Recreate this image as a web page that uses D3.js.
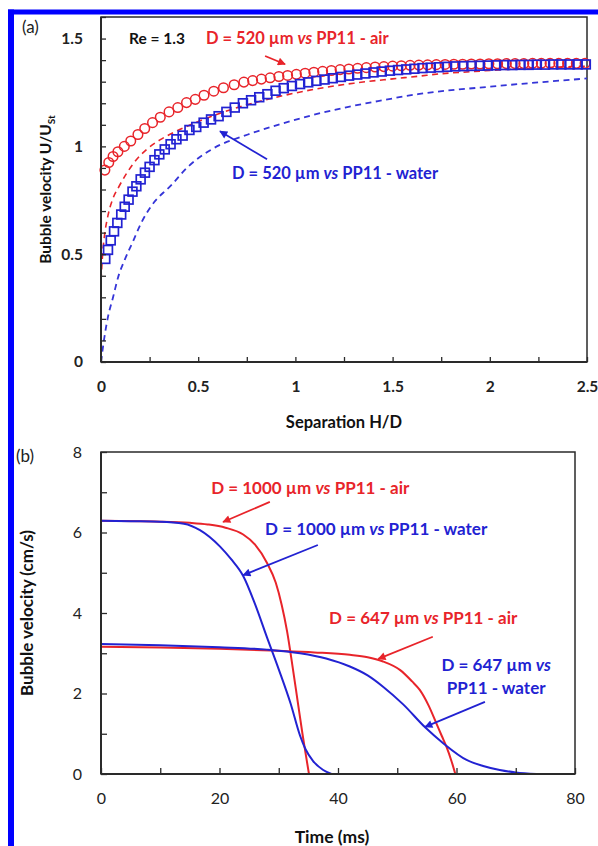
<!DOCTYPE html>
<html><head><meta charset="utf-8">
<script src="https://cdn.jsdelivr.net/npm/d3@7/dist/d3.min.js"></script>
<style>
html,body{margin:0;padding:0;background:#fff;}
svg{display:block;font-family:Lato,"Liberation Sans",sans-serif;}
</style></head>
<body>
<svg id="c" width="598" height="846"></svg>
<script>
// ---------- Panel (a) data ----------
const airMarkX = [0.02,0.04,0.062,0.087,0.12,0.153,0.19,0.225,0.265,0.305,0.35,0.395,0.44,0.485,0.53,0.58,0.63,0.685,0.735,0.78,0.825,0.87,0.915,0.96,1.005,1.05,1.095,1.14,1.185,1.23,1.275,1.32,1.365,1.41,1.455,1.5,1.545,1.59,1.635,1.68,1.725,1.77,1.815,1.86,1.905,1.95,1.995,2.04,2.085,2.13,2.175,2.22,2.265,2.31,2.355,2.4,2.445,2.49];
const airMarkY = [0.89,0.925,0.953,0.975,1.0,1.025,1.055,1.083,1.11,1.135,1.16,1.18,1.203,1.218,1.237,1.256,1.272,1.286,1.298,1.305,1.312,1.318,1.324,1.329,1.334,1.339,1.344,1.348,1.352,1.356,1.359,1.362,1.365,1.368,1.370,1.372,1.374,1.376,1.377,1.378,1.379,1.380,1.381,1.381,1.382,1.382,1.383,1.383,1.384,1.384,1.384,1.385,1.385,1.385,1.385,1.385,1.385,1.385];
const waterMarkX = [0.022,0.036,0.05,0.067,0.084,0.104,0.122,0.142,0.162,0.182,0.204,0.226,0.25,0.275,0.3,0.328,0.358,0.388,0.42,0.455,0.49,0.528,0.566,0.605,0.645,0.688,0.73,0.772,0.814,0.856,0.898,0.94,0.982,1.024,1.066,1.108,1.15,1.192,1.234,1.276,1.318,1.36,1.402,1.444,1.486,1.528,1.57,1.612,1.654,1.696,1.738,1.78,1.822,1.864,1.906,1.948,1.99,2.032,2.074,2.116,2.158,2.2,2.242,2.284,2.326,2.368,2.41,2.452,2.494];
const waterMarkY = [0.478,0.52,0.564,0.606,0.645,0.684,0.72,0.753,0.79,0.815,0.847,0.878,0.905,0.936,0.963,0.986,1.01,1.033,1.05,1.076,1.09,1.11,1.125,1.14,1.16,1.18,1.2,1.214,1.228,1.242,1.258,1.27,1.28,1.289,1.297,1.304,1.31,1.316,1.322,1.328,1.333,1.338,1.343,1.347,1.351,1.354,1.357,1.36,1.363,1.365,1.367,1.369,1.371,1.372,1.373,1.374,1.375,1.376,1.377,1.377,1.378,1.378,1.379,1.379,1.38,1.38,1.38,1.38,1.38];
const airDashX = [0,0.01,0.02,0.036,0.062,0.089,0.132,0.184,0.235,0.303,0.372,0.5,0.65,0.8,0.96,1.1,1.3,1.5,1.63,1.75,1.88,2.0,2.2,2.5];
const airDashY = [0.38,0.52,0.6,0.68,0.76,0.808,0.875,0.94,0.986,1.03,1.064,1.115,1.165,1.205,1.24,1.265,1.293,1.313,1.325,1.337,1.345,1.352,1.362,1.372];
const waterDashX = [0,0.015,0.036,0.062,0.087,0.122,0.165,0.207,0.26,0.32,0.345,0.447,0.567,0.756,0.91,1.084,1.255,1.425,1.63,2.04,2.5];
const waterDashY = [0,0.1,0.21,0.3,0.39,0.474,0.56,0.645,0.725,0.785,0.805,0.905,0.985,1.055,1.1,1.144,1.18,1.21,1.242,1.28,1.315];
const aYTicks = [0,0.1,0.2,0.3,0.4,0.5,0.6,0.7,0.8,0.9,1.0,1.1,1.2,1.3,1.4,1.5,1.6];
const aYLabels = {0:"0",0.5:"0.5",1:"1",1.5:"1.5"};
const aXTicks = [0,0.25,0.5,0.75,1,1.25,1.5,1.75,2,2.25,2.5];
const aXLabels = {0:"0",0.5:"0.5",1:"1",1.5:"1.5",2:"2",2.5:"2.5"};

// ---------- Panel (b) data ----------
const air1000T = [0,10,15,18,21,24,26,28,29.5,30.5,31.4,32.3,33.2,34,34.6,35.1];
const air1000V = [6.29,6.27,6.24,6.2,6.12,5.95,5.7,5.25,4.75,4.2,3.55,2.7,1.8,1.0,0.45,0];
const water1000T = [0,5,10,14,16.7,20.1,22,24,26,28,30,32,33.6,34.5,35.8,37.5,38.9];
const water1000V = [6.29,6.28,6.27,6.22,6.06,5.65,5.33,4.92,4.22,3.4,2.6,1.75,0.95,0.62,0.32,0.1,0];
const air647T = [0,10,20,30,36,42,45,47.5,50.5,52.5,53.8,55.3,56.6,57.5,58.3,59.2,59.8];
const air647V = [3.16,3.14,3.11,3.06,3.02,2.96,2.9,2.8,2.58,2.3,2.09,1.7,1.26,0.95,0.68,0.3,0];
const water647T = [0,10,20,28,33.6,38,42,45,47.6,51,54.7,57.8,61.7,64.5,67.3,70,73.5];
const water647V = [3.23,3.2,3.15,3.09,3.0,2.87,2.67,2.45,2.17,1.73,1.16,0.76,0.35,0.2,0.1,0.04,0];
const bYTicks = [0,1,2,3,4,5,6,7,8];
const bYLabels = {0:"0",2:"2",4:"4",6:"6",8:"8"};
const bXTicks = [0,10,20,30,40,50,60,70,80];
const bXLabels = {0:"0",20:"20",40:"40",60:"60",80:"80"};

const RED = "#e8242a", BLUE = "#2222d2", AX = "#2a2a2a";

const svg = d3.select("#c");
// blue frame of the figure
svg.append("rect").attr("x",8).attr("y",9.5).attr("width",590).attr("height",5).attr("fill","#0000ff");
svg.append("rect").attr("x",8).attr("y",9.5).attr("width",6).attr("height",837).attr("fill","#0000ff");

const defs = svg.append("defs");
function arrowMarker(id,color){
  defs.append("marker").attr("id",id).attr("viewBox","0 0 10 10").attr("refX",9).attr("refY",5)
    .attr("markerWidth",9).attr("markerHeight",8).attr("markerUnits","userSpaceOnUse").attr("orient","auto")
    .append("path").attr("d","M0,0L10,5L0,10z").attr("fill",color);
}
arrowMarker("ar",RED); arrowMarker("ab",BLUE);

function zip(a,b){return a.map((d,i)=>[d,b[i]]);}

// ===== Panel (a) =====
const ax = d3.scaleLinear().domain([0,2.5]).range([101,587]);
const ay = d3.scaleLinear().domain([0,1.6]).range([362,17]);
const ga = svg.append("g");
ga.append("rect").attr("x",ax(0)).attr("y",ay(1.6)).attr("width",ax(2.5)-ax(0)).attr("height",ay(0)-ay(1.6))
  .attr("fill","none").attr("stroke",AX).attr("stroke-width",1.5);

const line = (sx,sy)=>d3.line().x(d=>sx(d[0])).y(d=>sy(d[1])).curve(d3.curveMonotoneX);

ga.append("path").datum(zip(waterDashX,waterDashY)).attr("d",line(ax,ay)).attr("fill","none")
  .attr("stroke","#3535d8").attr("stroke-width",1.8).attr("stroke-dasharray","6,4.5");
ga.append("path").datum(zip(airDashX,airDashY)).attr("d",line(ax,ay)).attr("fill","none")
  .attr("stroke",RED).attr("stroke-width",1.6).attr("stroke-dasharray","6,4.5");

ga.selectAll("circle.air").data(zip(airMarkX,airMarkY)).join("circle").attr("class","air")
  .attr("cx",d=>ax(d[0])).attr("cy",d=>ay(d[1])).attr("r",4.8)
  .attr("fill","none").attr("stroke",RED).attr("stroke-width",1.5);
ga.selectAll("rect.wat").data(zip(waterMarkX,waterMarkY)).join("rect").attr("class","wat")
  .attr("x",d=>ax(d[0])-4.4).attr("y",d=>ay(d[1])-4.4).attr("width",8.8).attr("height",8.8)
  .attr("fill","none").attr("stroke",BLUE).attr("stroke-width",1.7);

function styleAxis(g,bold,size){
  g.select(".domain").remove();
  g.selectAll(".tick line").attr("stroke",AX).attr("stroke-width",1.3);
  g.selectAll(".tick text").attr("fill","#222").style("font-size",size+"px")
    .style("font-weight",bold?"700":"400").style("font-family","Lato, sans-serif");
}
const gaY = ga.append("g").attr("transform",`translate(${ax(0)},0)`)
  .call(d3.axisLeft(ay).tickValues(aYTicks).tickSize(-5).tickPadding(18).tickFormat(d=>aYLabels[Math.round(d*10)/10]||""));
styleAxis(gaY,true,15.5);
const gaX = ga.append("g").attr("transform",`translate(0,${ay(0)})`)
  .call(d3.axisBottom(ax).tickValues(aXTicks).tickSize(-5).tickPadding(19).tickFormat(d=>aXLabels[d]||""));
styleAxis(gaX,true,15.5);
ga.append("line").attr("x1",ax(0)).attr("x2",ax(0)).attr("y1",ay(0)).attr("y2",ay(1.6)).attr("stroke",AX).attr("stroke-width",2);
ga.append("line").attr("x1",ax(0)).attr("x2",ax(2.5)).attr("y1",ay(0)).attr("y2",ay(0)).attr("stroke",AX).attr("stroke-width",2);

// titles (a)
svg.append("text").attr("x",22).attr("y",33).text("(a)").style("font-size","17px").attr("fill","#222");
svg.append("text").attr("x",(ax(0)+ax(2.5))/2).attr("y",428).attr("text-anchor","middle")
  .style("font-size","16.5px").style("font-weight","700").attr("fill","#111").text("Separation H/D");
const ta = svg.append("text").attr("transform",`translate(51,${(ay(0)+ay(1.6))/2}) rotate(-90)`).attr("text-anchor","middle")
  .style("font-size","15.5px").style("font-weight","700").attr("fill","#111");
ta.append("tspan").text("Bubble  velocity U/U");
ta.append("tspan").text("St").style("font-size","10px").attr("dy",4);

// annotations
function label(g,sx,sy,x,y,color,parts,anchor,size){
  const t = g.append("text").attr("x",sx(x)).attr("y",sy(y)).attr("fill",color)
    .style("font-size",(size||16.5)+"px").style("font-weight","700").attr("text-anchor",anchor||"start");
  parts.forEach(p=>{const s=t.append("tspan").text(p[0]); if(p[1]) s.style("font-style","italic");});
}
function arrow(g,sx,sy,x1,y1,x2,y2,color,mk){
  g.append("line").attr("x1",sx(x1)).attr("y1",sy(y1)).attr("x2",sx(x2)).attr("y2",sy(y2))
    .attr("stroke",color).attr("stroke-width",1.8).attr("marker-end",`url(#${mk})`);
}
label(ga,ax,ay,0.144,1.474,"#111",[["Re = 1.3"]],"start",15.5);
label(ga,ax,ay,0.54,1.474,RED,[["D = 520 µm "],["vs",1],[" PP11 - air"]]);
label(ga,ax,ay,0.674,0.851,BLUE,[["D = 520 µm "],["vs",1],[" PP11 - water"]]);
arrow(ga,ax,ay,0.844,1.419,0.947,1.381,RED,"ar");
arrow(ga,ax,ay,0.854,0.94,0.612,1.07,BLUE,"ab");

// ===== Panel (b) =====
const bx = d3.scaleLinear().domain([0,80]).range([101,575]);
const by = d3.scaleLinear().domain([0,8]).range([774,452]);
const gb = svg.append("g");
gb.append("rect").attr("x",bx(0)).attr("y",by(8)).attr("width",bx(80)-bx(0)).attr("height",by(0)-by(8))
  .attr("fill","none").attr("stroke",AX).attr("stroke-width",1.5);

const blin = d3.line().x(d=>bx(d[0])).y(d=>by(d[1])).curve(d3.curveMonotoneX);
[[air1000T,air1000V,RED],[air647T,air647V,RED],[water1000T,water1000V,BLUE],[water647T,water647V,BLUE]].forEach(s=>{
  gb.append("path").datum(zip(s[0],s[1])).attr("d",blin).attr("fill","none").attr("stroke",s[2]).attr("stroke-width",2);
});

const gbY = gb.append("g").attr("transform",`translate(${bx(0)},0)`)
  .call(d3.axisLeft(by).tickValues(bYTicks).tickSize(-6).tickPadding(19).tickFormat(d=>bYLabels[d]||""));
styleAxis(gbY,false,16);
const gbX = gb.append("g").attr("transform",`translate(0,${by(0)})`)
  .call(d3.axisBottom(bx).tickValues(bXTicks).tickSize(-6).tickPadding(19).tickFormat(d=>bXLabels[d]||""));
styleAxis(gbX,false,16);
gb.append("line").attr("x1",bx(0)).attr("x2",bx(0)).attr("y1",by(0)).attr("y2",by(8)).attr("stroke",AX).attr("stroke-width",2);
gb.append("line").attr("x1",bx(0)).attr("x2",bx(80)).attr("y1",by(0)).attr("y2",by(0)).attr("stroke",AX).attr("stroke-width",2);

svg.append("text").attr("x",16).attr("y",462).text("(b)").style("font-size","17px").attr("fill","#222");
svg.append("text").attr("x",(bx(0)+bx(80))/2-6).attr("y",843).attr("text-anchor","middle")
  .style("font-size","17.5px").style("font-weight","700").attr("fill","#111").text("Time (ms)");
svg.append("text").attr("transform",`translate(33,${(by(0)+by(8))/2}) rotate(-90)`).attr("text-anchor","middle")
  .style("font-size","17px").style("font-weight","700").attr("fill","#111").text("Bubble velocity  (cm/s)");

label(gb,bx,by,18.6,6.96,RED,[["D = 1000 µm "],["vs",1],[" PP11 - air"]],"start",17);
label(gb,bx,by,27.7,5.94,BLUE,[["D = 1000 µm "],["vs",1],[" PP11 - water"]],"start",17);
label(gb,bx,by,38.5,3.73,RED,[["D = 647 µm "],["vs",1],[" PP11 - air"]],"start",17);
label(gb,bx,by,66.7,2.56,BLUE,[["D = 647 µm "],["vs",1]],"middle",17);
label(gb,bx,by,66.7,1.99,BLUE,[["PP11 - water"]],"middle",17);
arrow(gb,bx,by,28.5,6.76,20.6,6.26,RED,"ar");
arrow(gb,bx,by,36.6,5.69,24.0,4.94,BLUE,"ab");
arrow(gb,bx,by,56.0,3.41,46.8,2.86,RED,"ar");
arrow(gb,bx,by,64.8,1.79,54.7,1.17,BLUE,"ab");
</script>
</body></html>
